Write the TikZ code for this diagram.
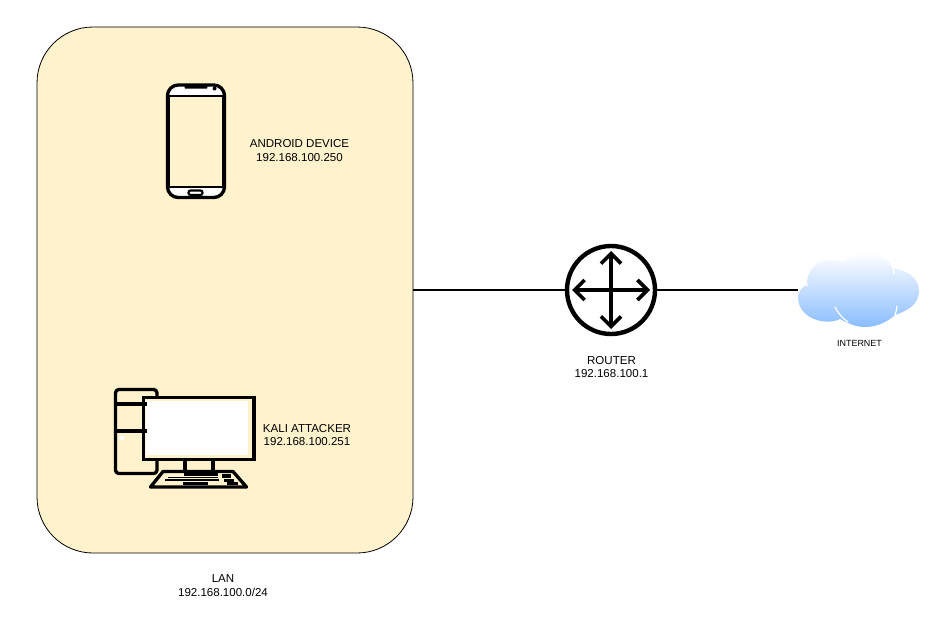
\documentclass[tikz,border=0pt]{standalone}
\usepackage{fontspec}
\setmainfont{Liberation Sans}
\usetikzlibrary{arrows.meta}
\definecolor{lanfill}{HTML}{FFF2CC}
\definecolor{cloudblue}{HTML}{8ABDFF}
\tikzset{
  px/.style={x=0.75pt,y=-0.75pt},
  lanbox/.style={draw=black,line width=0.6pt,fill=lanfill,rounded corners=42pt,inner sep=0pt,minimum width=282pt,minimum height=394.5pt},
  label/.style={font=\fontsize{8.65}{9.9}\selectfont,align=center,inner sep=0pt,text=black},
  smalllabel/.style={font=\fontsize{6.7}{8}\selectfont,align=center,inner sep=0pt,text=black},
  link/.style={draw=black,line width=2pt},
  routerc/.style={circle,draw=black,line width=3.3pt,fill=white,minimum size=66pt,inner sep=0pt},
  icon/.style={draw=black,line width=2.5pt,line cap=round,line join=round},
  iconthin/.style={draw=black,line width=2.6pt},
  crack/.style={draw=white,line width=0.9pt,line cap=round},
  arrowline/.style={draw=black,line width=2.7pt,{Straight Barb[length=7.5pt,width=15pt,line width=2.7pt]}-{Straight Barb[length=7.5pt,width=15pt,line width=2.7pt]}}
}
\begin{document}
\begin{tikzpicture}[px]
\useasboundingbox[fill=white] (0,0) rectangle (937,617);
% LAN container
\node[lanbox] (lan) at (225,290) {};
% Phone
\draw[icon,fill=white,rounded corners=8pt] (167.5,85) rectangle (224.5,197.5);
\fill[lanfill,draw=black,line width=1.4pt] (169.5,96) -- (222.5,96) -- (222.5,187) -- (169.5,187) -- cycle;
\fill[black] (184,85) -- (208,85) -- (207,88.5) -- (185,88.5) -- cycle;
\fill[black] (214.5,88.5) circle (2);
\draw[draw=black,line width=1.6pt,fill=white,rounded corners=1.5pt] (188.5,190.5) rectangle (202.5,195);
% Computer
\draw[icon,rounded corners=2.5pt] (157,400) -- (157,389.5) -- (115.5,389.5) -- (115.5,473.5) -- (157,473.5) -- (157,456);
\fill[lanfill] (143,397) rectangle (254,460);
\fill[white] (146,401) rectangle (248,455);
\draw[icon,line cap=butt,line join=miter] (143.5,397.5) rectangle (254,459.5);
\draw[iconthin] (115.5,404) -- (147,404);
\draw[iconthin] (115.5,431) -- (147,431);
\fill[white] (122,438) circle (2.6);
\draw[iconthin] (185,460) -- (185,472);
\draw[iconthin] (213,460) -- (213,472);
\draw[icon,line join=round] (163,471.5) -- (233,471.5) -- (246.5,487) -- (150.5,487) -- cycle;
\fill[black] (184,471) rectangle (218,476);
\fill[black] (168,476.5) rectangle (218,478);
\fill[black] (222,474) rectangle (231,477.5);
\fill[black] (165,478.5) rectangle (219,480.5);
\fill[black] (224,479) rectangle (234,481.5);
\fill[black] (183,482) rectangle (208,485);
\fill[black] (227,482) rectangle (238,485);
% Router
\node[routerc] (router) at (611,290) {};
\path (router.center) ++(-39,0) coordinate (rw) ++(78,0) coordinate (re);
\path (router.center) ++(0,-39) coordinate (rn) ++(0,78) coordinate (rs);
\draw[arrowline] (rw) -- (re);
\draw[arrowline] (rn) -- (rs);
% Cloud
\coordinate (cloudw) at (798,290);
\shade[top color=white,bottom color=cloudblue]
  (798,297) .. controls (799,290) and (802,287) .. (807,285)
  .. controls (806,270) and (818,259) .. (832,260)
  .. controls (836,260) and (840,261) .. (844,262)
  .. controls (848,256) and (855,253) .. (864,253)
  .. controls (878,253) and (889,258) .. (892,268)
  .. controls (906,270) and (919,277) .. (919,291)
  .. controls (919,303) and (910,310) .. (895,315)
  .. controls (887,322) and (877,327) .. (865,327)
  .. controls (855,327) and (848,323) .. (840,319)
  .. controls (832,323) and (822,322) .. (814,319)
  .. controls (804,315) and (798,307) .. (798,297) -- cycle;
\draw[crack] (804,280) .. controls (805,283) and (806,285) .. (808,286);
\draw[crack] (844,262) .. controls (844,260) and (845,259) .. (846,258);
\draw[crack] (892,260) .. controls (893,263) and (893,266) .. (894,274);
\draw[crack] (835,307) .. controls (838,313) and (842,318) .. (848,322);
\draw[crack] (897,306) .. controls (897,309) and (896,312) .. (895,315);
% Links
\draw[link] (lan.east |- router.west) -- (router.west);
\draw[link] (router.east) -- (cloudw);
% Labels
\node[label] (androidlabel) at (299.5,150.5) {ANDROID DEVICE\\192.168.100.250};
\node[label] (kalilabel) at (307,435) {KALI ATTACKER\\192.168.100.251};
\node[label] (routerlabel) at (611.5,367) {ROUTER\\192.168.100.1};
\node[smalllabel] (internetlabel) at (859.5,343) {INTERNET};
\node[label] (lanlabel) at (223,585.5) {LAN\\192.168.100.0/24};
\end{tikzpicture}
\end{document}
